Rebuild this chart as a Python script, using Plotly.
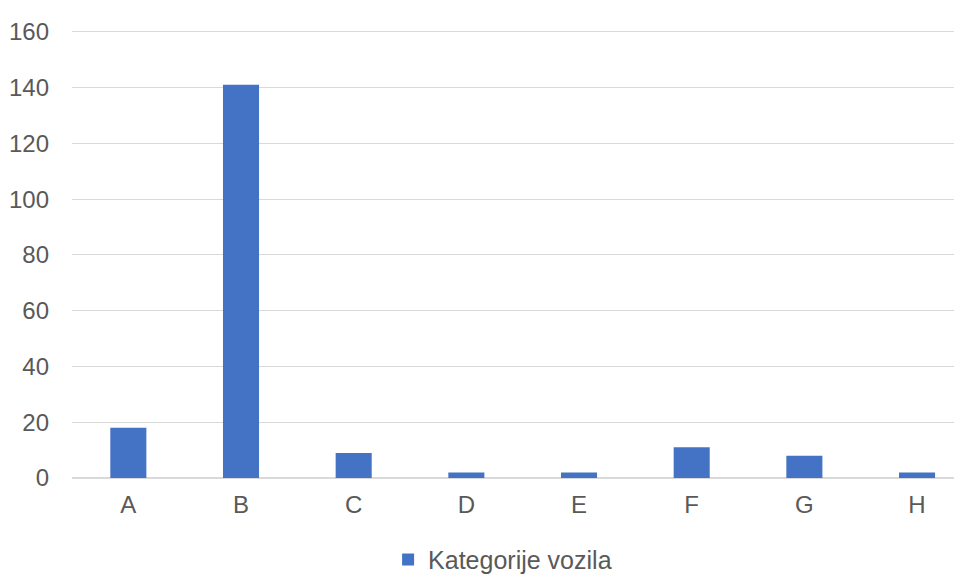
import plotly.graph_objects as go

categories = ["A", "B", "C", "D", "E", "F", "G", "H"]
values = [18, 141, 9, 2, 2, 11, 8, 2]
series_name = "Kategorije vozila"
y_ticks = [0, 20, 40, 60, 80, 100, 120, 140, 160]

fig = go.Figure()
fig.add_trace(go.Bar(
    x=categories, y=values, name=series_name,
    marker=dict(color="#4472C4", line=dict(width=0)),
))

font_family = "Liberation Sans, Arial, Helvetica, sans-serif"
fig.update_layout(
    width=962, height=574,
    margin=dict(l=64, r=0, t=21, b=104, autoexpand=False),
    paper_bgcolor="white", plot_bgcolor="white",
    bargap=0.68,
    showlegend=True,
    font=dict(family=font_family, size=24, color="#595959"),
    legend=dict(orientation="h", x=0.352, xanchor="left", y=-0.182, yanchor="middle",
                font=dict(size=25, color="#595959"), itemwidth=30),
    xaxis=dict(range=[-0.5, 7.47], showgrid=False, zeroline=False, showline=False,
               ticks="", ticklabelstandoff=10, tickfont=dict(size=24)),
    yaxis=dict(range=[0, 161], tickvals=y_ticks, showgrid=True, gridcolor="#d9d9d9",
               gridwidth=1.2, zeroline=True, zerolinecolor="#d9d9d9", zerolinewidth=1.5,
               showline=False, ticks="", ticklabelstandoff=22, tickfont=dict(size=24)),
)

fig.write_html("out.html")
